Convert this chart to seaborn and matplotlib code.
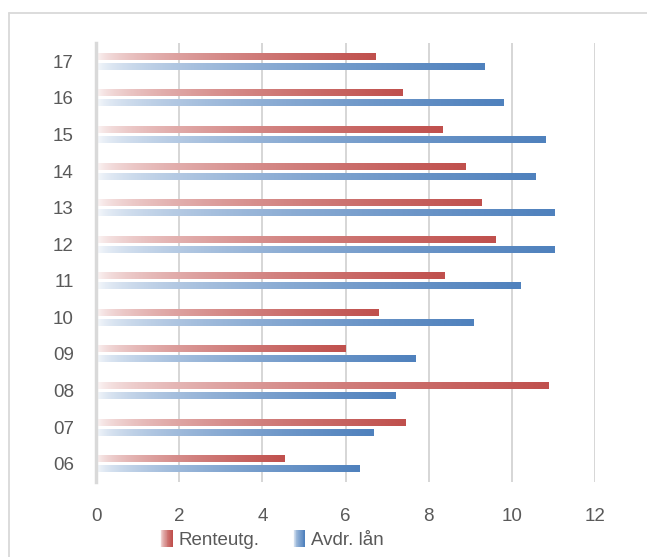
import numpy as np
import pandas as pd
import matplotlib
matplotlib.use("Agg")
import matplotlib.pyplot as plt
import seaborn as sns
from matplotlib.legend_handler import HandlerBase
from matplotlib.patches import Rectangle
from matplotlib.colors import to_rgb
from matplotlib.lines import Line2D

years = ['06', '07', '08', '09', '10', '11', '12', '13', '14', '15', '16', '17']
renteutg = [4.54, 7.44, 10.87, 6.00, 6.79, 8.38, 9.60, 9.26, 8.88, 8.33, 7.37, 6.72]
avdr_laan = [6.34, 6.67, 7.20, 7.68, 9.07, 10.22, 11.02, 11.02, 10.58, 10.80, 9.79, 9.34]
series_names = ['Renteutg.', 'Avdr. lån']
x_ticks = [0, 2, 4, 6, 8, 10, 12]

RED = '#C0504D'
BLUE = '#4F81BD'
TEXT = '#595959'
GRID = '#d6d6d6'

sns.set_theme(style='white')
plt.rcParams['font.family'] = ['Liberation Sans', 'DejaVu Sans']

df = pd.DataFrame({
    'year': years * 2,
    'value': renteutg + avdr_laan,
    'series': [series_names[0]] * len(years) + [series_names[1]] * len(years),
})

W, H = 647, 557
fig = plt.figure(figsize=(W / 100, H / 100), dpi=100)
ax = fig.add_axes([96 / W, 1 - 482 / H, (595 - 96) / W, (482 - 43) / H])

order = years[::-1]
sns.barplot(data=df, y='year', x='value', hue='series', order=order,
            hue_order=series_names, palette=[RED, BLUE], saturation=1,
            orient='h', width=0.546, gap=0.3, ax=ax, legend=False)


def grad_colors(base, n=256):
    b = np.array(to_rgb(base))
    t = np.linspace(0, 1, n)
    a = np.clip(np.sqrt(t), 0.04, 1.0)
    return (1 - a[:, None]) * 1.0 + a[:, None] * b[None, :]


grads = {RED: grad_colors(RED), BLUE: grad_colors(BLUE)}
patches = list(ax.patches)
for p in patches:
    fc = np.array(p.get_facecolor()[:3])
    dr = np.abs(fc - np.array(to_rgb(RED))).sum()
    db = np.abs(fc - np.array(to_rgb(BLUE))).sum()
    key = RED if dr < db else BLUE
    x0, y0 = p.get_x(), p.get_y()
    w, h = p.get_width(), p.get_height()
    img = grads[key][None, :, :]
    ax.imshow(img, extent=(x0, x0 + w, y0 + h, y0), aspect='auto',
              interpolation='bilinear', zorder=3)
    p.set_visible(False)

ax.set_xlim(0, 12)
ax.set_ylim(len(years) - 0.5, -0.5)
ax.set_xticks(x_ticks)
ax.set_xticklabels([str(v) for v in x_ticks])
ax.xaxis.grid(True, color=GRID, linewidth=1.4, zorder=0)
ax.set_axisbelow(True)
for s in ['top', 'right', 'bottom']:
    ax.spines[s].set_visible(False)
ax.spines['left'].set_color('#d9d9d9')
ax.spines['left'].set_linewidth(2.5)
ax.spines['left'].set_zorder(4)
ax.set_xlabel('')
ax.set_ylabel('')
ax.tick_params(axis='x', length=0, pad=19, labelsize=13.5, labelcolor=TEXT)
ax.tick_params(axis='y', length=0, pad=16, labelsize=13.5, labelcolor=TEXT)


class GradHandler(HandlerBase):
    def create_artists(self, legend, orig_handle, xdescent, ydescent,
                       width, height, fontsize, trans):
        cols = grad_colors(orig_handle.get_facecolor(), 14)
        n = len(cols)
        arts = []
        for i, c in enumerate(cols):
            r = Rectangle((-xdescent + i * width / n, -ydescent - 1), width / n * 1.05,
                          height + 2, facecolor=c, edgecolor='none', transform=trans)
            arts.append(r)
        return arts


handles = [Rectangle((0, 0), 1, 1, facecolor=RED), Rectangle((0, 0), 1, 1, facecolor=BLUE)]
leg = fig.legend(handles, series_names, loc='center', bbox_to_anchor=(272 / W, 1 - 540 / H),
                 ncol=2, frameon=False, fontsize=13.5, labelcolor=TEXT,
                 handlelength=0.65, handleheight=0.8, handletextpad=0.3,
                 columnspacing=1.8, borderpad=0,
                 handler_map={Rectangle: GradHandler()})

# chart-area border (top and left visible)
fig.add_artist(Line2D([9 / W, 9 / W], [0, 1 - 13 / H], color='#d9d9d9', lw=1.3))
fig.add_artist(Line2D([9 / W, 1], [1 - 13 / H, 1 - 13 / H], color='#d9d9d9', lw=1.3))

fig.savefig('out.png', dpi=100, facecolor='white')
